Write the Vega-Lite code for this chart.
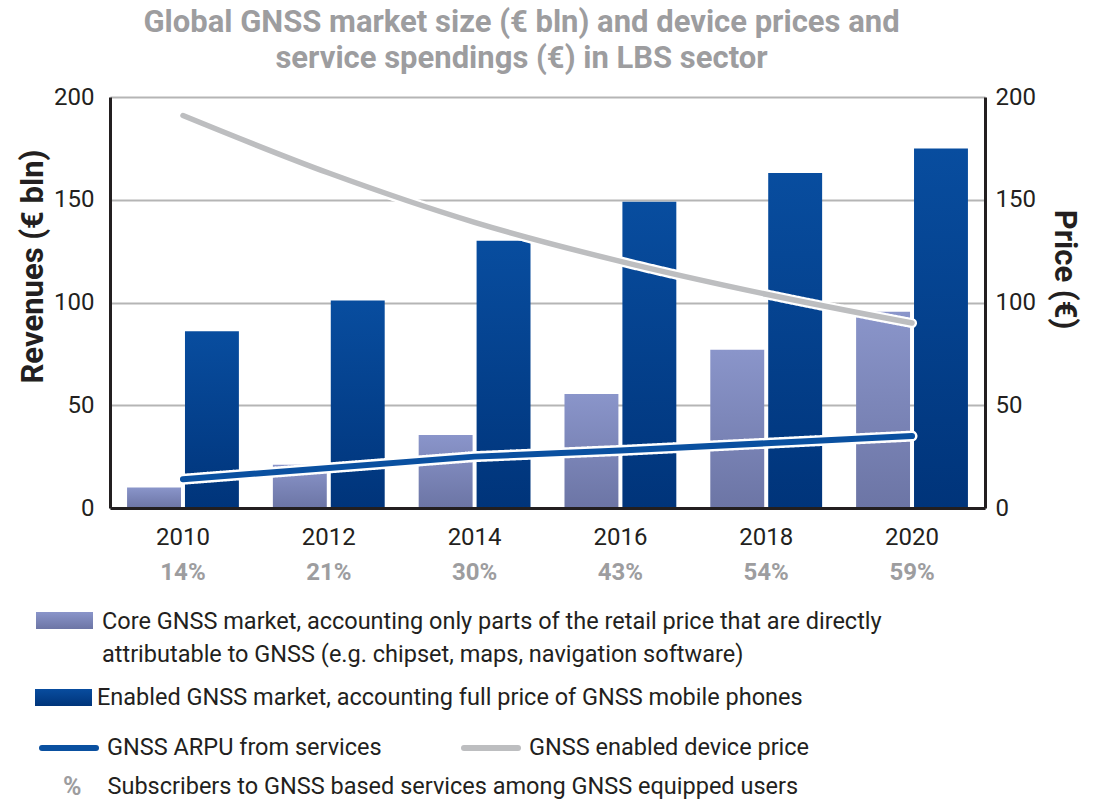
{
  "$schema": "https://vega.github.io/schema/vega-lite/v6.json",
  "width": 875,
  "height": 411,
  "autosize": {"type": "none"},
  "padding": {"left": 110, "top": 97, "right": 110, "bottom": 291},
  "background": "white",
  "config": {
    "font": "Roboto",
    "view": {"stroke": null},
    "axis": {"labelColor": "#231f20", "titleColor": "#231f20"},
    "legend": {"labelColor": "#231f20", "labelFontSize": 23.5, "labelLimit": 1000, "padding": 0}
  },
  "title": {
    "text": ["Global GNSS market size (€ bln) and device prices and", "service spendings (€) in LBS sector"],
    "fontSize": 31,
    "fontWeight": "bold",
    "color": "#9d9d9f",
    "anchor": "middle",
    "frame": "group",
    "lineHeight": 36,
    "dx": -26,
    "offset": 10
  },
  "data": {
    "values": [
      {"year": "2010", "core": 10, "enabled": 86, "arpu": 14, "price": 191, "pct": "14%"},
      {"year": "2012", "core": 21, "enabled": 101, "arpu": 19.5, "price": 163, "pct": "21%"},
      {"year": "2014", "core": 35.5, "enabled": 130, "arpu": 25, "price": 139, "pct": "30%"},
      {"year": "2016", "core": 55.5, "enabled": 149, "arpu": 28, "price": 120, "pct": "43%"},
      {"year": "2018", "core": 77, "enabled": 163, "arpu": 31.5, "price": 104, "pct": "54%"},
      {"year": "2020", "core": 95.5, "enabled": 175, "arpu": 35, "price": 90, "pct": "59%"}
    ]
  },
  "layer": [
    {
      "mark": {"type": "bar", "strokeWidth": 0, "color": {"gradient": "linear", "x1": 0, "y1": 0, "x2": 0, "y2": 1, "stops": [{"offset": 0, "color": "#8a95ca"}, {"offset": 1, "color": "#6c75a5"}]}},
      "encoding": {
        "x": {"field": "year", "type": "nominal", "sort": null,
          "scale": {"type": "band", "paddingInner": 0.233, "paddingOuter": 0.117},
          "axis": {"orient": "bottom", "title": null, "labelAngle": 0, "ticks": false, "domainColor": "#231f20", "domainWidth": 3, "labelFontSize": 24, "labelPadding": 17, "zindex": 1}},
        "xOffset": {"datum": "core", "scale": {"domain": ["core", "enabled"], "paddingInner": 0.069, "paddingOuter": 0}},
        "y": {"field": "core", "type": "quantitative",
          "scale": {"domain": [0, 200], "nice": false},
          "axis": {"orient": "left", "values": [0, 50, 100, 150, 200], "grid": true, "gridColor": "#b5b5b5", "gridWidth": 2, "ticks": false, "domainColor": "#231f20", "domainWidth": 3, "labelFontSize": 24, "labelPadding": 16, "title": "Revenues (€ bln)", "titleFontSize": 31, "titleFontWeight": "bold", "titlePadding": 4, "titleY": 169, "titleAnchor": "middle"}},
        "stroke": {"datum": "Core GNSS market, accounting only parts of the retail price that are directly|attributable to GNSS (e.g. chipset, maps, navigation software)",
          "scale": {"range": ["rgba(0,0,0,0)"]},
          "legend": {"orient": "none", "legendX": -74, "legendY": 495, "title": null, "symbolType": "M-1,-0.3H1V0.3H-1Z", "symbolSize": 3249, "symbolStrokeWidth": 0, "labelOffset": 9, "labelExpr": "split(datum.label, '|')",
            "encoding": {
              "labels": {"dy": {"value": 1}, "lineHeight": {"value": 33}},
              "symbols": {"fill": {"value": {"gradient": "linear", "x1": 0, "y1": 0, "x2": 0, "y2": 1, "stops": [{"offset": 0, "color": "#8a95ca"}, {"offset": 1, "color": "#6c75a5"}]}}, "opacity": {"value": 1}, "fillOpacity": {"value": 1}}
            }}}
      }
    },
    {
      "mark": {"type": "bar", "strokeWidth": 0, "color": {"gradient": "linear", "x1": 0, "y1": 0, "x2": 0, "y2": 1, "stops": [{"offset": 0, "color": "#084d9f"}, {"offset": 1, "color": "#00347a"}]}},
      "encoding": {
        "x": {"field": "year", "type": "nominal", "sort": null,
          "scale": {"type": "band", "paddingInner": 0.233, "paddingOuter": 0.117}, "axis": null},
        "xOffset": {"datum": "enabled", "scale": {"domain": ["core", "enabled"], "paddingInner": 0.069, "paddingOuter": 0}},
        "y": {"field": "enabled", "type": "quantitative", "scale": {"domain": [0, 200], "nice": false}, "axis": null},
        "stroke": {"datum": "Enabled GNSS market, accounting full price of GNSS mobile phones",
          "scale": {"range": ["rgba(0,0,0,0)"]},
          "legend": {"orient": "none", "legendX": -75, "legendY": 572, "title": null, "symbolType": "M-1,-0.3H1V0.3H-1Z", "symbolSize": 3249, "symbolStrokeWidth": 0, "labelOffset": 5,
            "encoding": {
              "symbols": {"fill": {"value": {"gradient": "linear", "x1": 0, "y1": 0, "x2": 0, "y2": 1, "stops": [{"offset": 0, "color": "#084d9f"}, {"offset": 1, "color": "#00347a"}]}}, "opacity": {"value": 1}, "fillOpacity": {"value": 1}}
            }}}
      }
    },
    {
      "mark": {"type": "line", "color": "white", "strokeWidth": 11, "strokeCap": "round", "strokeJoin": "round"},
      "encoding": {
        "x": {"field": "pct", "type": "nominal", "sort": null,
          "scale": {"type": "band", "paddingInner": 0.233, "paddingOuter": 0.117},
          "axis": {"orient": "bottom", "title": null, "labelAngle": 0, "ticks": false, "domain": false, "labelFontSize": 24, "labelFontWeight": "bold", "labelColor": "#9d9d9f", "labelPadding": 52}},
        "y": {"field": "arpu", "type": "quantitative", "scale": {"domain": [0, 200], "nice": false}, "axis": null},
        "strokeDash": {"datum": "%", "scale": {"range": [[1, 0]]},
          "legend": {"orient": "none", "legendX": -72, "legendY": 677, "title": null, "symbolType": "stroke", "symbolSize": 1, "symbolOpacity": 0, "symbolStrokeWidth": 0, "labelOffset": 0, "labelFontSize": 25, "labelFontWeight": "bold", "labelColor": "#9d9d9f",
            "encoding": {"labels": {"fontSize": {"value": 25}, "fontWeight": {"value": "bold"}, "fill": {"value": "#9d9d9f"}}}}}
      }
    },
    {
      "mark": {"type": "line", "strokeWidth": 6, "strokeCap": "round", "strokeJoin": "round"},
      "encoding": {
        "x": {"field": "year", "type": "nominal", "sort": null,
          "scale": {"type": "band", "paddingInner": 0.233, "paddingOuter": 0.117}, "axis": null},
        "y": {"field": "arpu", "type": "quantitative", "scale": {"domain": [0, 200], "nice": false},
          "axis": {"orient": "right", "values": [0, 50, 100, 150, 200], "grid": false, "ticks": false, "domainColor": "#231f20", "domainWidth": 3, "labelFontSize": 24, "labelPadding": 10, "title": "Price (€)", "titleFontSize": 31, "titleFontWeight": "bold", "titlePadding": 12, "titleY": 172, "titleAnchor": "middle"}},
        "stroke": {"datum": "GNSS ARPU from services", "scale": {"range": ["#0a50a0"]},
          "legend": {"orient": "none", "legendX": -71, "legendY": 621, "title": null, "symbolType": "stroke", "symbolSize": 2916, "symbolStrokeWidth": 6, "labelOffset": 8,
            "encoding": {"symbols": {"strokeCap": {"value": "round"}}}}}
      }
    },
    {
      "mark": {"type": "line", "color": "white", "strokeWidth": 10, "strokeCap": "round", "strokeJoin": "round", "interpolate": "monotone"},
      "encoding": {
        "x": {"field": "year", "type": "nominal", "sort": null,
          "scale": {"type": "band", "paddingInner": 0.233, "paddingOuter": 0.117}, "axis": null},
        "y": {"field": "price", "type": "quantitative", "scale": {"domain": [0, 200], "nice": false}, "axis": null},
        "strokeDash": {"datum": "Subscribers to GNSS based services among GNSS equipped users", "scale": {"range": [[1, 0]]},
          "legend": {"orient": "none", "legendX": -26, "legendY": 678, "title": null, "symbolType": "stroke", "symbolSize": 1, "symbolOpacity": 0, "symbolStrokeWidth": 0, "labelOffset": 0}}
      }
    },
    {
      "mark": {"type": "line", "strokeWidth": 5.5, "strokeCap": "round", "strokeJoin": "round", "interpolate": "monotone"},
      "encoding": {
        "x": {"field": "year", "type": "nominal", "sort": null,
          "scale": {"type": "band", "paddingInner": 0.233, "paddingOuter": 0.117}, "axis": null},
        "y": {"field": "price", "type": "quantitative", "scale": {"domain": [0, 200], "nice": false}, "axis": null},
        "stroke": {"datum": "GNSS enabled device price", "scale": {"range": ["#bdbec0"]},
          "legend": {"orient": "none", "legendX": 351, "legendY": 621, "title": null, "symbolType": "stroke", "symbolSize": 2916, "symbolStrokeWidth": 6, "labelOffset": 8,
            "encoding": {"symbols": {"strokeCap": {"value": "round"}}}}}
      }
    }
  ],
  "resolve": {
    "scale": {"x": "independent", "xOffset": "independent", "y": "independent", "stroke": "independent", "strokeDash": "independent"}
  }
}
